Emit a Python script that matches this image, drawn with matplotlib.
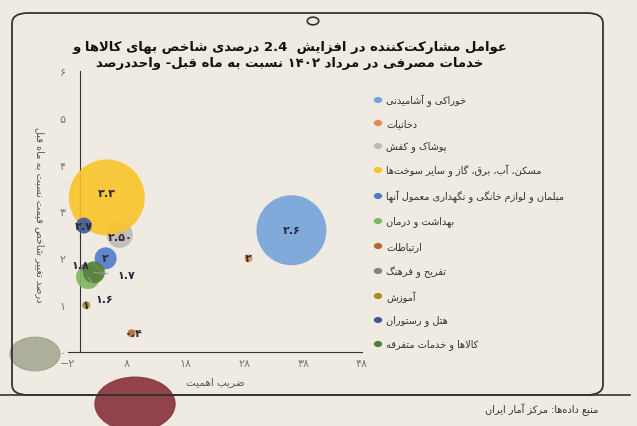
import matplotlib
matplotlib.use("Agg")
import matplotlib.pyplot as plt
from matplotlib.patches import Circle, FancyBboxPatch
import re

# ---------------- data ----------------
categories = ["خوراکی و آشامیدنی", "دخانیات", "پوشاک و کفش",
              "مسکن، آب، برق، گاز و سایر سوخت‌ها",
              "مبلمان و لوازم خانگی و نگهداری معمول آنها",
              "بهداشت و درمان", "ارتباطات", "تفریح و فرهنگ", "آموزش",
              "هتل و رستوران", "کالاها و خدمات متفرقه"]
weights = [36.0, 28.7, 6.8, 4.6, 4.4, 1.4, 8.8, 0.8, 1.1, 0.7, 2.4]
changes = [2.6, 2.0, 2.5, 3.3, 2.0, 1.6, 0.4, 1.8, 1.0, 2.7, 1.7]
value_labels = ["۲.۶", "۲", "۲.۵۰", "۳.۳", "۲", "۱.۶", "۰.۴", "۱.۸", "۱", "۲.۷", "۱.۷"]
bubble_size = [35, 4, 13, 38, 11, 12, 4, 4, 4, 8, 11]
colors = ["#74A3D9", "#E98A4C", "#BDBBB6", "#F8C42A", "#4F7CCB", "#7DB95C",
          "#B8672E", "#858380", "#A98C2C", "#3E5A9A", "#557E3B"]
# label offsets in pixels (dx, dy up), and whether a leader line is drawn
label_offsets = [(0, 0), (0, 0), (0, -2), (0, 4), (0, 0), (16, -22), (2, 0),
                 (-4, 3), (0, 0), (0, 0), (32, -3)]
leaders = [False, False, False, False, False, True, False, False, False, False, True]
x_ticks = [-2, 8, 18, 28, 38, 48]
y_ticks = [0, 1, 2, 3, 4, 5, 6]
title = "عوامل مشارکت‌کننده در افزایش  2.4 درصدی شاخص بهای کالاها و\nخدمات مصرفی در مرداد ۱۴۰۲ نسبت به ماه قبل- واحددرصد"
xlabel = "ضریب اهمیت"
ylabel = "درصد تغییر شاخص قیمت نسبت به ماه قبل"
source = "منبع داده‌ها: مرکز آمار ایران"

# ---------------- simple Persian shaping ----------------
F = {  # iso, fin, ini, med
 'ا': (0xFE8D, 0xFE8E, None, None), 'آ': (0xFE81, 0xFE82, None, None),
 'ب': (0xFE8F, 0xFE90, 0xFE91, 0xFE92), 'پ': (0xFB56, 0xFB57, 0xFB58, 0xFB59),
 'ت': (0xFE95, 0xFE96, 0xFE97, 0xFE98), 'ث': (0xFE99, 0xFE9A, 0xFE9B, 0xFE9C),
 'ج': (0xFE9D, 0xFE9E, 0xFE9F, 0xFEA0), 'چ': (0xFB7A, 0xFB7B, 0xFB7C, 0xFB7D),
 'ح': (0xFEA1, 0xFEA2, 0xFEA3, 0xFEA4), 'خ': (0xFEA5, 0xFEA6, 0xFEA7, 0xFEA8),
 'د': (0xFEA9, 0xFEAA, None, None), 'ذ': (0xFEAB, 0xFEAC, None, None),
 'ر': (0xFEAD, 0xFEAE, None, None), 'ز': (0xFEAF, 0xFEB0, None, None),
 'ژ': (0xFB8A, 0xFB8B, None, None),
 'س': (0xFEB1, 0xFEB2, 0xFEB3, 0xFEB4), 'ش': (0xFEB5, 0xFEB6, 0xFEB7, 0xFEB8),
 'ص': (0xFEB9, 0xFEBA, 0xFEBB, 0xFEBC), 'ض': (0xFEBD, 0xFEBE, 0xFEBF, 0xFEC0),
 'ط': (0xFEC1, 0xFEC2, 0xFEC3, 0xFEC4), 'ظ': (0xFEC5, 0xFEC6, 0xFEC7, 0xFEC8),
 'ع': (0xFEC9, 0xFECA, 0xFECB, 0xFECC), 'غ': (0xFECD, 0xFECE, 0xFECF, 0xFED0),
 'ف': (0xFED1, 0xFED2, 0xFED3, 0xFED4), 'ق': (0xFED5, 0xFED6, 0xFED7, 0xFED8),
 'ک': (0xFB8E, 0xFB8F, 0xFB90, 0xFB91), 'گ': (0xFB92, 0xFB93, 0xFB94, 0xFB95),
 'ل': (0xFEDD, 0xFEDE, 0xFEDF, 0xFEE0), 'م': (0xFEE1, 0xFEE2, 0xFEE3, 0xFEE4),
 'ن': (0xFEE5, 0xFEE6, 0xFEE7, 0xFEE8), 'و': (0xFEED, 0xFEEE, None, None),
 'ه': (0xFEE9, 0xFEEA, 0xFEEB, 0xFEEC), 'ی': (0xFBFC, 0xFBFD, 0xFBFE, 0xFBFF),
}

def shape(s):
    chars = []
    i = 0
    while i < len(s):
        if s[i] == 'ل' and i + 1 < len(s) and s[i+1] in 'اآ':
            chars.append('LA' if s[i+1] == 'ا' else 'LAA'); i += 2
        else:
            chars.append(s[i]); i += 1
    def joins_next(c):
        if c in ('LA', 'LAA'):
            return False
        return c in F and F[c][2] is not None
    def joinable(c):
        return c in F or c in ('LA', 'LAA')
    out = []
    for k, c in enumerate(chars):
        prev = chars[k-1] if k > 0 else None
        nxt = chars[k+1] if k + 1 < len(chars) else None
        jp = prev is not None and joins_next(prev)
        jn = nxt is not None and joinable(nxt) and joins_next(c)
        if c in ('LA', 'LAA'):
            base = (0xFEFB, 0xFEFC) if c == 'LA' else (0xFEF5, 0xFEF6)
            out.append(chr(base[1] if jp else base[0])); continue
        if c == '\u200c':
            continue
        if c not in F:
            out.append(c); continue
        iso, fin, ini, med = F[c]
        if jp and jn: out.append(chr(med))
        elif jp: out.append(chr(fin))
        elif jn: out.append(chr(ini))
        else: out.append(chr(iso))
    return ''.join(out)

def fa(s):
    lines = []
    for line in s.split('\n'):
        sh = shape(line)
        runs = re.findall(r'[0-9۰-۹.]+|[^0-9۰-۹.]+', sh)
        vis = [r if re.match(r'[0-9۰-۹.]', r) else r[::-1] for r in runs]
        lines.append(''.join(vis[::-1]))
    return '\n'.join(lines)

def fanum(v):
    return str(v).translate(str.maketrans('0123456789-', '۰۱۲۳۴۵۶۷۸۹−'))

# ---------------- figure ----------------
plt.rcParams['font.family'] = 'DejaVu Sans'
bg = "#EFEBE2"
fig = plt.figure(figsize=(6.37, 4.27), dpi=100, facecolor=bg)
W, H = 637, 427

def fx(p): return p / W
def fy(p): return 1 - p / H

frame = FancyBboxPatch((fx(12), fy(396)), fx(591), (396 - 14) / H,
                       boxstyle="round,pad=0,rounding_size=0.025",
                       transform=fig.transFigure, fill=False, ec="#333333", lw=1.3)
fig.patches.append(frame)
fig.patches.append(Circle((fx(313), fy(22)), 0.009, transform=fig.transFigure,
                          fill=False, ec="#333333", lw=1.2))
fig.add_artist(plt.Line2D([0, fx(630)], [fy(396), fy(396)], transform=fig.transFigure,
                          color="#333333", lw=1.2))
fig.patches.append(Circle((fx(35), fy(355)), 25 / W, transform=fig.transFigure,
                          color="#9EA08A", alpha=0.8, zorder=0))
fig.patches.append(Circle((fx(135), fy(405)), 40 / W, transform=fig.transFigure,
                          color="#8C3A44", alpha=0.95, zorder=0))

ax = fig.add_axes([fx(68), fy(353), fx(362) - fx(68), (353 - 72) / H])
ax.set_facecolor('none')
ax.set_xlim(-2, 48)
ax.set_ylim(0, 6)
ax.scatter(weights, changes, s=[(2 * r * 0.72) ** 2 for r in bubble_size],
           c=colors, alpha=0.9, edgecolors='none', zorder=3)
for xv, yv, lab, off, ld in zip(weights, changes, value_labels, label_offsets, leaders):
    ax.annotate(lab, (xv, yv), xytext=(off[0] * 0.72, off[1] * 0.72),
                textcoords='offset points', ha='center', va='center', fontsize=8,
                fontweight='bold', color="#2A2A3A", zorder=4,
                arrowprops=dict(arrowstyle='-', color="#999999", lw=0.8,
                                shrinkA=5, shrinkB=0) if ld else None)
ax.spines['left'].set_position(('data', 0))
for s in ['top', 'right']:
    ax.spines[s].set_visible(False)
ax.spines['left'].set_color("#333333")
ax.spines['bottom'].set_color("#333333")
ax.set_xticks(x_ticks)
ax.set_xticklabels([fanum(v) for v in x_ticks], color="#777777", fontsize=8)
ax.set_yticks(y_ticks)
ax.set_yticklabels([fanum(v) for v in y_ticks], color="#777777", fontsize=8)
ax.tick_params(length=0, pad=4)
ax.yaxis.set_tick_params(pad=10)
ax.set_xlabel(fa(xlabel), fontsize=7.5, color="#555555", labelpad=6)
fig.text(fx(40), fy(215), fa(ylabel), rotation=270, ha='center', va='center',
         fontsize=7, color="#555555")

fig.text(fx(290), fy(55), fa(title), ha='center', va='center', fontsize=9.5,
         fontweight='bold', color="#111111", linespacing=1.3)

ys = [101, 124, 147, 171, 197, 222, 247, 272, 297, 321, 345]
for cat, col, yp in zip(categories, colors, ys):
    fig.patches.append(Circle((fx(378), fy(yp)), 3.5 / W, transform=fig.transFigure,
                              color=col))
    fig.text(fx(386), fy(yp), fa(cat), ha='left', va='center', fontsize=7,
             color="#333333")

fig.text(fx(598), fy(410), fa(source), ha='right', va='center', fontsize=7,
         color="#333333")

fig.savefig("out.png", dpi=100, facecolor=bg)
